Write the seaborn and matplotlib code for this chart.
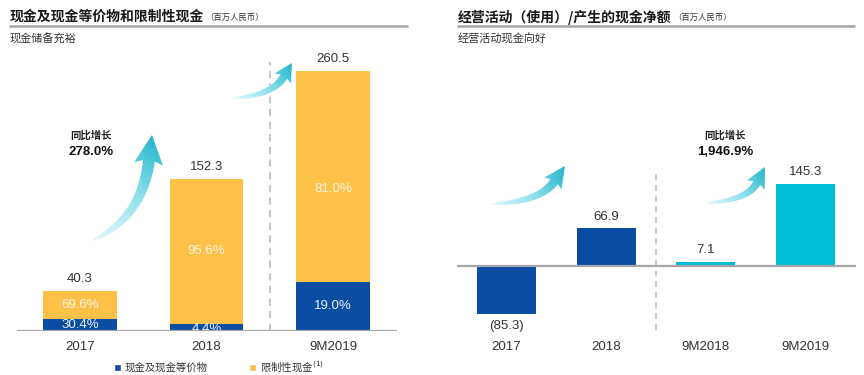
#!/usr/bin/env python3
import numpy as np
import pandas as pd
import matplotlib
matplotlib.use("Agg")
import matplotlib.pyplot as plt
import seaborn as sns
from matplotlib.path import Path
from matplotlib.patches import PathPatch, Patch
from matplotlib.colors import LinearSegmentedColormap

# --- Data ---
left_years = ["2017", "2018", "9M2019"]
left_totals = [40.3, 152.3, 260.5]
cash_share = [30.4, 4.4, 19.0]          # 现金及现金等价物 (%)
restricted_share = [69.6, 95.6, 81.0]   # 限制性现金 (%)
left_growth = "278.0%"

right_periods = ["2017", "2018", "9M2018", "9M2019"]
right_values = [-85.3, 66.9, 7.1, 145.3]
right_growth = "1,946.9%"

BLUE = "#0C4DA4"
ORANGE = "#FEC147"
CYAN = "#00BED5"
GREY = "#A6A6A6"
TXT = "#333333"

sns.set_style("white")
plt.rcParams["font.family"] = ["Noto Sans CJK SC", "DejaVu Sans"]
NUM = ["Liberation Sans", "DejaVu Sans"]

W, H = 864, 375
fig = plt.figure(figsize=(W / 100, H / 100), dpi=100)


def px_axes(x0, y_base, x1, ylo, yhi, scale):
    """axes placed in pixel coords; y_base = pixel row of value 0"""
    bottom = H - (y_base - ylo * scale)
    height = (yhi - ylo) * scale
    return fig.add_axes([x0 / W, bottom / H, (x1 - x0) / W, height / H])


# --- Left panel: stacked bars ---
axl = px_axes(16.5, 331, 396.5, 0, 280, 1.0)
df_l = pd.DataFrame({"year": left_years, "total": left_totals, "cash": cash_share})
df_l["cash_val"] = df_l["total"] * df_l["cash"] / 100
sns.barplot(data=df_l, x="year", y="total", color=ORANGE, width=0.58,
            linewidth=0, saturation=1, ax=axl)
sns.barplot(data=df_l, x="year", y="cash_val", color=BLUE, width=0.58,
            linewidth=0, saturation=1, ax=axl)
axl.set_ylim(0, 280)
axl.set_xlim(-0.5, 2.5)

for i, (tot, c, r) in enumerate(zip(left_totals, cash_share, restricted_share)):
    axl.annotate(f"{tot:.1f}", (i, tot), xytext=(0, 4), textcoords="offset points",
                 ha="center", va="bottom", fontsize=9.5, color=TXT, family=NUM)
    cv = tot * c / 100
    axl.text(i, tot - (tot - cv) / 2 if i != 2 else cv + (tot - cv) * 0.44,
             f"{r:.1f}%", ha="center", va="center", fontsize=9.5,
             color="#FFF6E6", family=NUM)
    ypos = cv / 2 if i != 1 else 1.5
    axl.text(i, ypos, f"{c:.1f}%", ha="center", va="center", fontsize=9.5,
             color="#EEF2FA", family=NUM)
axl.plot([1.5, 1.5], [0, 269], ls=(0, (4, 3)), color="#BFBFBF", lw=1.3, clip_on=False)

# --- Right panel: net cash bars ---
scale_r = 0.565
axr = px_axes(456.5, 266, 855.5, -110, 250, scale_r)
df_r = pd.DataFrame({"period": right_periods, "value": right_values})
sns.barplot(data=df_r, x="period", y="value", hue="period",
            palette=[BLUE, BLUE, CYAN, CYAN], width=0.59, linewidth=0,
            saturation=1, legend=False, ax=axr)
axr.set_ylim(-110, 250)
axr.set_xlim(-0.5, 3.5)
for i, v in enumerate(right_values):
    if v < 0:
        axr.annotate(f"({abs(v):.1f})", (i, v), xytext=(0, -4), textcoords="offset points",
                     ha="center", va="top", fontsize=9.5, color=TXT, family=NUM)
    else:
        axr.annotate(f"{v:.1f}", (i, v), xytext=(0, 4), textcoords="offset points",
                     ha="center", va="bottom", fontsize=9.5, color=TXT, family=NUM)
axr.plot([1.5, 1.5], [-113, 170], ls=(0, (4, 3)), color="#BFBFBF", lw=1.1, clip_on=False)

for ax, pad in ((axl, 7), (axr, 9)):
    ax.axhline(0, color=GREY, lw=1.6, zorder=5)
    sns.despine(ax=ax, left=True, bottom=True)
    ax.set_xlabel("")
    ax.set_ylabel("")
    ax.set_yticks([])
    ax.tick_params(axis="x", length=0, pad=pad, labelsize=9.5, labelcolor=TXT)
    for lab in ax.get_xticklabels():
        lab.set_family(NUM)
    ax.patch.set_alpha(0)

# --- Overlay for titles, arrows ---
ov = fig.add_axes([0, 0, 1, 1], zorder=10)
ov.patch.set_alpha(0)
ov.axis("off")

arrow_cmap = LinearSegmentedColormap.from_list("arr", ["#E4F9FC", "#8EE0EC", "#22B4CB"])


def grad_arrow(tail, ctrl, tip, w_tail, w_neck, head_w, head_len):
    tail, ctrl, tip = map(np.asarray, (tail, ctrl, tip))
    d_end = (tip - ctrl) / np.linalg.norm(tip - ctrl)
    neck = tip - d_end * head_len
    t = np.linspace(0, 1, 40)[:, None]
    pts = (1 - t) ** 2 * tail + 2 * (1 - t) * t * ctrl + t ** 2 * neck
    der = 2 * (1 - t) * (ctrl - tail) + 2 * t * (neck - ctrl)
    der /= np.linalg.norm(der, axis=1, keepdims=True)
    nrm = np.column_stack([-der[:, 1], der[:, 0]])
    w = (w_tail + (w_neck - w_tail) * np.sqrt(t)) / 2
    left = pts + nrm * w
    right = pts - nrm * w
    n_end = nrm[-1]
    back = neck - d_end * head_len * 0.12
    verts = np.vstack([left, back + n_end * head_w / 2, tip,
                       back - n_end * head_w / 2, right[::-1], left[:1]])
    path = Path(verts, closed=True)
    patch = PathPatch(path, facecolor="none", edgecolor="none")
    ov.add_patch(patch)
    xmin, ymin = verts.min(axis=0) - 2
    xmax, ymax = verts.max(axis=0) + 2
    gx, gy = np.meshgrid(np.linspace(xmin, xmax, 120), np.linspace(ymin, ymax, 120))
    vec = tip - tail
    val = ((gx - tail[0]) * vec[0] + (gy - tail[1]) * vec[1]) / (vec @ vec)
    im = ov.imshow(np.clip(val, 0, 1), cmap=arrow_cmap, vmin=0, vmax=1,
                   extent=(xmin, xmax, ymax, ymin), origin="upper",
                   aspect="auto", interpolation="bilinear")
    im.set_clip_path(patch)


grad_arrow((93, 240), (142, 218), (152, 135), 0.5, 12, 29, 26)
grad_arrow((233, 98), (272, 96), (292, 63), 0.5, 8, 19, 16)
grad_arrow((491, 204), (540, 202), (565, 166), 0.5, 9, 21, 19)
grad_arrow((707, 203), (748, 200), (765, 167), 0.5, 8, 20, 18)

ov.set_xlim(0, W)
ov.set_ylim(H, 0)

# titles
for x0, x1, title, sub in ((10, 408, "现金及现金等价物和限制性现金", "现金储备充裕"),
                           (458, 855, "经营活动（使用）/产生的现金净额", "经营活动现金向好")):
    t = ov.text(x0, 17, title, fontsize=10, fontweight="bold", color="#1A1A1A",
                ha="left", va="center")
    ov.annotate("（百万人民币）", xy=(1, 0.45), xycoords=t, xytext=(1, 0),
                textcoords="offset points", ha="left", va="center",
                fontsize=6, color=TXT)
    ov.plot([x0 - 1, x1], [25.5, 25.5], color=GREY, lw=1.8, solid_capstyle="butt")
    ov.text(x0, 39, sub, fontsize=8, color=TXT, ha="left", va="center")

# growth annotations
for x, y, val in ((91, 136, left_growth), (725, 136, right_growth)):
    ov.text(x, y, "同比增长", fontsize=7.5, fontweight="bold", color="#222222",
            ha="center", va="center")
    ov.text(x, y + 16, val, fontsize=9.5, fontweight="bold", color="#111111",
            ha="center", va="center", family=NUM)

# legend
handles = [Patch(facecolor=BLUE), Patch(facecolor=ORANGE)]
labels = ["现金及现金等价物", "限制性现金$^{(1)}$"]
fig.legend(handles, labels, loc="center", bbox_to_anchor=(219 / W, 1 - 367 / H),
           ncol=2, frameon=False, fontsize=7.5, handlelength=0.65, handleheight=0.65,
           handletextpad=0.35, columnspacing=4.0, labelcolor=TXT)

fig.savefig("out.png", dpi=100)
